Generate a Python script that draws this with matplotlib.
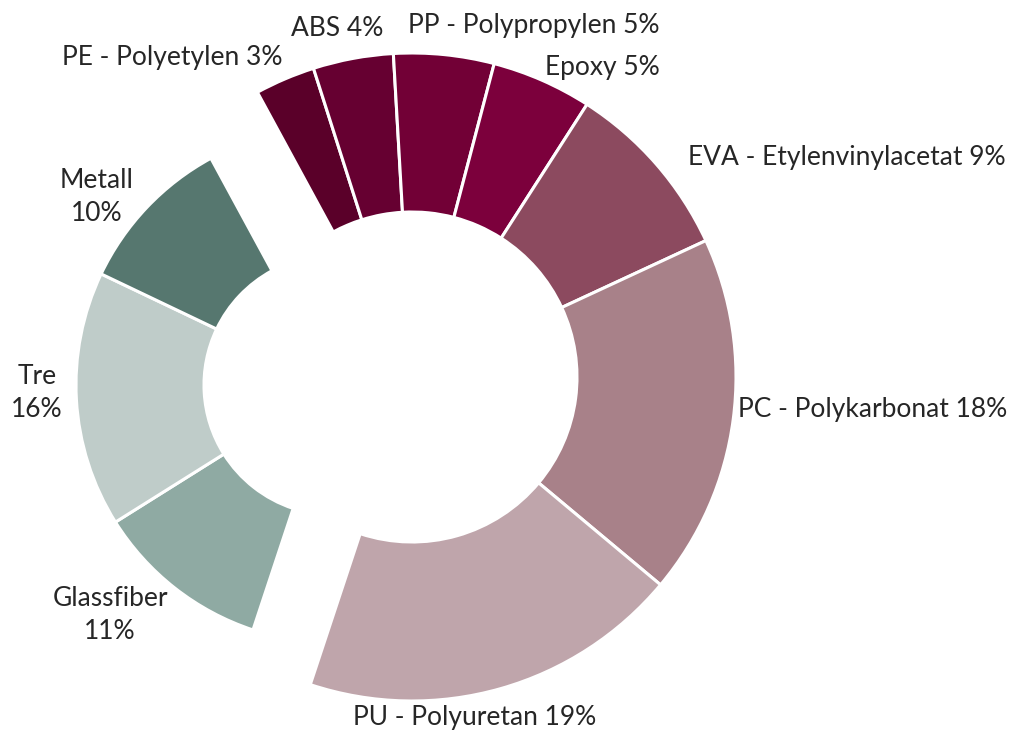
import matplotlib.pyplot as plt

labels = ["PE - Polyetylen", "ABS", "PP - Polypropylen", "Epoxy",
          "EVA - Etylenvinylacetat", "PC - Polykarbonat", "PU - Polyuretan",
          "Glassfiber", "Tre", "Metall"]
values = [3, 4, 5, 5, 9, 18, 19, 11, 16, 10]
colors = ["#5a0029", "#660031", "#720036", "#7c003c", "#8c4a5f",
          "#a88189", "#bfa5ab", "#8faaa3", "#bfccc9", "#56776f"]
green = [False] * 7 + [True] * 3

# label anchors in pixel space (x, y from top), alignment
label_pos = [(283, 57, "right"), (337, 28, "center"), (534, 25, "center"),
             (602, 67, "center"), (688, 158, "left"), (738, 410, "left"),
             (475, 718, "center"), (110, 615, "center"), (37, 393, "center"),
             (97, 197, "center")]

W, H = 1013, 734
fig = plt.figure(figsize=(W / 100, H / 100), dpi=100)
ax = fig.add_axes([0, 0, 1, 1])

start = 118.5
wp = dict(edgecolor="white", linewidth=2.2)

# main ring
main_w, _ = ax.pie(values, colors=colors, startangle=start, counterclock=False,
                   center=(412, H - 377), radius=324,
                   wedgeprops=dict(width=159, **wp))
for w, g in zip(main_w, green):
    w.set_visible(not g)

# detached green group, a bit smaller
grn_w, _ = ax.pie(values, colors=colors, startangle=start, counterclock=False,
                  center=(334, H - 385), radius=258,
                  wedgeprops=dict(width=128, **wp))
for w, g in zip(grn_w, green):
    w.set_visible(g)

for lab, v, (x, y, ha), g in zip(labels, values, label_pos, green):
    txt = f"{lab}\n{v}%" if g else f"{lab} {v}%"
    ax.text(x, H - y, txt, ha=ha, va="center", fontsize=19,
            family="Lato", color="#262626", linespacing=1.4)

ax.set_xlim(0, W)
ax.set_ylim(0, H)
ax.set_aspect("equal")
ax.axis("off")

plt.savefig("out.png", dpi=100)
